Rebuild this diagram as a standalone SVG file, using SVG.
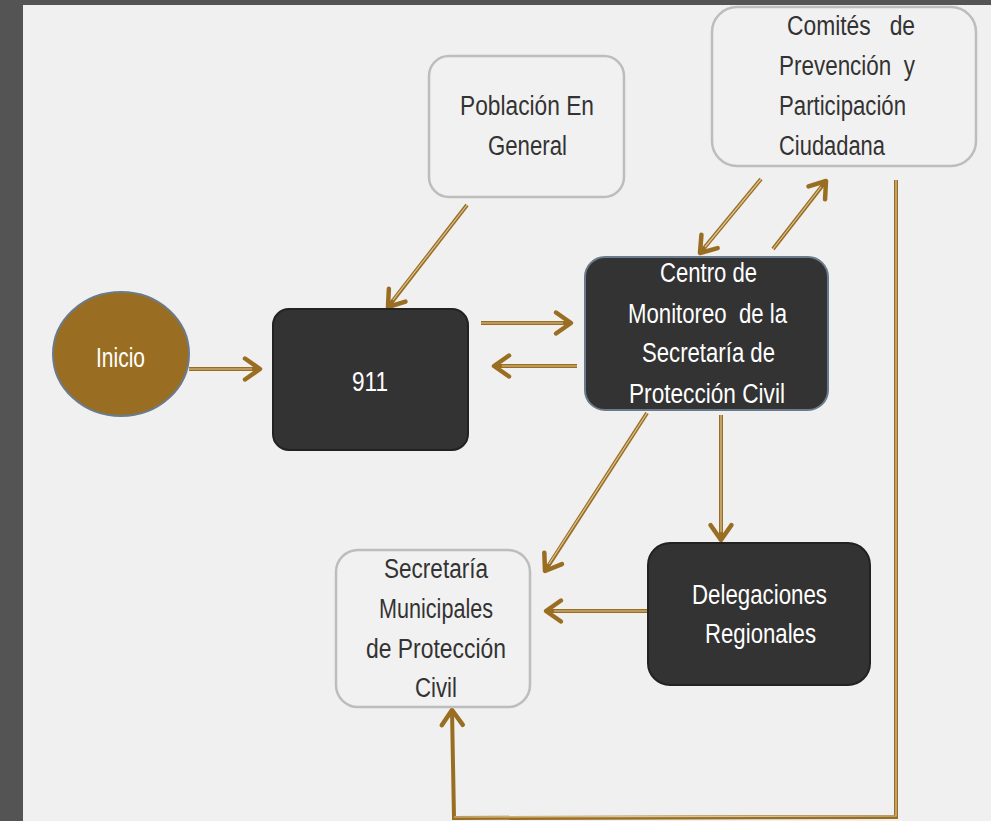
<svg xmlns="http://www.w3.org/2000/svg" width="991" height="821" viewBox="0 0 991 821">
<style>
.lt{fill:#f1f1f1;stroke:#bdbdbd;stroke-width:2.5}
.dk{fill:#333333;stroke:#222222;stroke-width:2}
.t{font-family:"Liberation Sans",Arial,sans-serif;font-size:27px}
.pre{white-space:pre}
.w{fill:#ffffff}
.b{fill:#333333}
.c{fill:none;stroke:#9a6e22;stroke-width:4;stroke-linejoin:miter}
.ci{fill:none;stroke:#dcc595;stroke-width:1.2}
</style>
<defs>
<marker id="ah" markerUnits="userSpaceOnUse" markerWidth="40" markerHeight="40" viewBox="-20 -20 40 40" refX="0" refY="0" orient="auto">
<path d="M-15,-10.5 L0,0 L-15,10.5" fill="none" stroke="#9a6e22" stroke-width="4.5" stroke-linecap="round" stroke-linejoin="round"/>
</marker>
</defs>
<rect x="0" y="0" width="991" height="821" fill="#545454"/>
<rect x="23" y="5" width="968" height="816" fill="#f0f0f0"/>

<g id="connectors">
<path class="c" marker-end="url(#ah)" d="M189,369 L260,369"/>
<path class="ci" d="M189,369 L252,369"/>
<path class="c" marker-end="url(#ah)" d="M467,205 L388,307"/>
<path class="ci" d="M467,205 L393,300"/>
<path class="c" marker-end="url(#ah)" d="M481,323 L571,323"/>
<path class="ci" d="M481,323 L563,323"/>
<path class="c" marker-end="url(#ah)" d="M577,366 L494,366"/>
<path class="ci" d="M577,366 L502,366"/>
<path class="c" marker-end="url(#ah)" d="M761,179 L700,253"/>
<path class="ci" d="M761,179 L705,247"/>
<path class="c" marker-end="url(#ah)" d="M773,249 L826,181"/>
<path class="ci" d="M773,249 L821,187"/>
<path class="c" marker-end="url(#ah)" d="M647,413 L545,571"/>
<path class="ci" d="M647,413 L549,564"/>
<path class="c" marker-end="url(#ah)" d="M721,415 L721,540"/>
<path class="ci" d="M721,415 L721,532"/>
<path class="c" marker-end="url(#ah)" d="M647,611 L546,611"/>
<path class="ci" d="M647,611 L554,611"/>
<path class="c" marker-end="url(#ah)" d="M896,180 L896,817 L454,818 L452,710"/>
<path class="ci" d="M896,180 L896,816 L454,817"/>
</g>

<g id="inicio">
<ellipse cx="121" cy="354" rx="68" ry="62" fill="#9a6e22" stroke="#6b7b8b" stroke-width="2"/>
<text class="t w" x="96" y="367" textLength="49" lengthAdjust="spacingAndGlyphs">Inicio</text>
</g>

<g id="n911">
<rect class="dk" x="273" y="309" width="195" height="141" rx="16"/>
<text class="t w" x="352" y="391" textLength="36" lengthAdjust="spacingAndGlyphs">911</text>
</g>

<g id="poblacion">
<rect class="lt" x="429" y="56" width="195" height="141" rx="20"/>
<text class="t b" x="460" y="115" textLength="134" lengthAdjust="spacingAndGlyphs">Población En</text>
<text class="t b" x="488" y="155" textLength="79" lengthAdjust="spacingAndGlyphs">General</text>
</g>

<g id="centro">
<rect x="585" y="257" width="243" height="153" rx="20" fill="#333333" stroke="#6b7b8b" stroke-width="2"/>
<text class="t w" x="660" y="282" textLength="97" lengthAdjust="spacingAndGlyphs">Centro de</text>
<text class="t w pre" x="628" y="323" textLength="159" lengthAdjust="spacingAndGlyphs">Monitoreo  de la</text>
<text class="t w" x="642" y="362" textLength="133" lengthAdjust="spacingAndGlyphs">Secretaría de</text>
<text class="t w" x="629" y="403" textLength="156" lengthAdjust="spacingAndGlyphs">Protección Civil</text>
</g>

<g id="comites">
<rect class="lt" x="712" y="7" width="264" height="159" rx="25"/>
<text class="t b pre" x="787" y="35" textLength="128" lengthAdjust="spacingAndGlyphs">Comités   de</text>
<text class="t b pre" x="779" y="75" textLength="136" lengthAdjust="spacingAndGlyphs">Prevención  y</text>
<text class="t b" x="779" y="115" textLength="127" lengthAdjust="spacingAndGlyphs">Participación</text>
<text class="t b" x="779" y="155" textLength="106" lengthAdjust="spacingAndGlyphs">Ciudadana</text>
</g>

<g id="secretaria">
<rect class="lt" x="336" y="550" width="194" height="157" rx="22"/>
<text class="t b" x="384" y="578" textLength="104" lengthAdjust="spacingAndGlyphs">Secretaría</text>
<text class="t b" x="379" y="618" textLength="114" lengthAdjust="spacingAndGlyphs">Municipales</text>
<text class="t b" x="366" y="658" textLength="140" lengthAdjust="spacingAndGlyphs">de Protección</text>
<text class="t b" x="415" y="697" textLength="42" lengthAdjust="spacingAndGlyphs">Civil</text>
</g>

<g id="delegaciones">
<rect class="dk" x="648" y="543" width="222" height="142" rx="22"/>
<text class="t w" x="692" y="604" textLength="135" lengthAdjust="spacingAndGlyphs">Delegaciones</text>
<text class="t w" x="705" y="643" textLength="111" lengthAdjust="spacingAndGlyphs">Regionales</text>
</g>
</svg>
